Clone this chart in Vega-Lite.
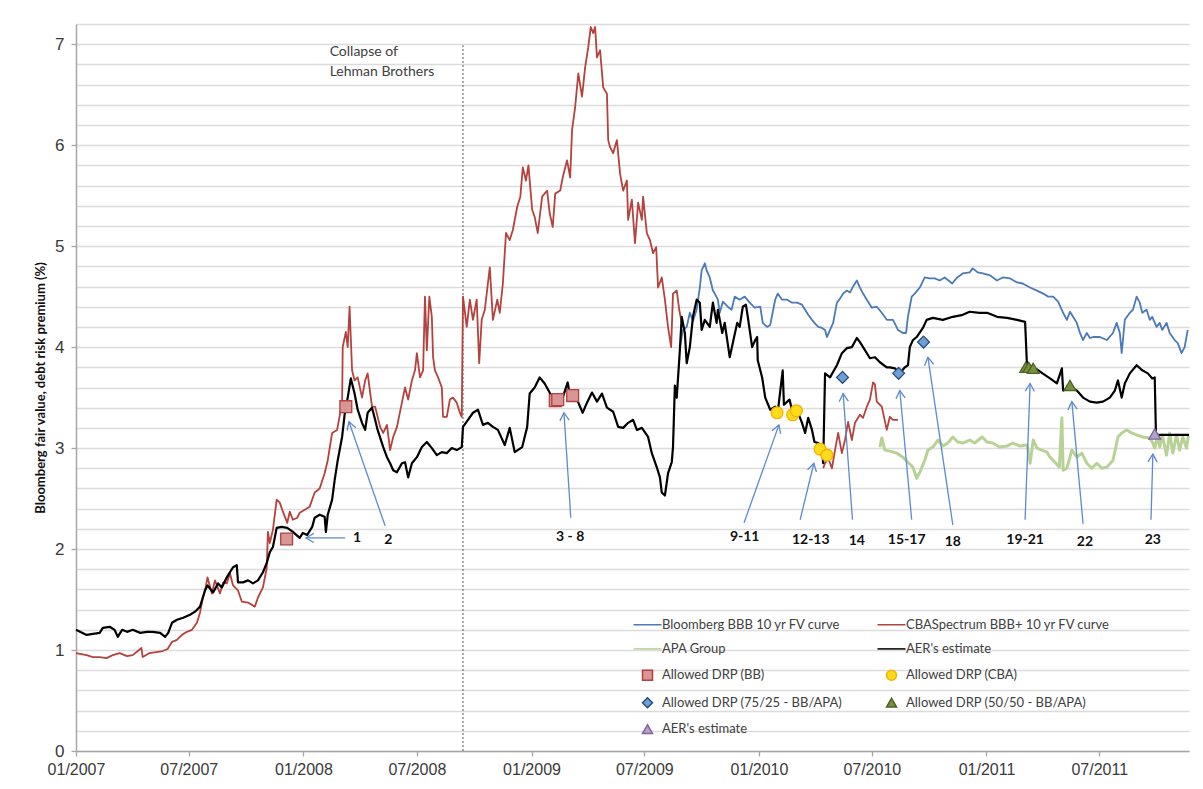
{
"$schema": "https://vega.github.io/schema/vega-lite/v6.json",
"width": 1113, "height": 727,
"autosize": "none",
"padding": {"left": 76, "top": 24, "right": 14, "bottom": 38},
"background": "white",
"config": {"view": {"stroke": null}, "font": "Lato",
  "legend": {"symbolOpacity": 1, "labelFont": "Lato", "labelFontSize": 13, "labelColor": "#404040"}},
"datasets": {
"lines": [
{"s":"BBG","d":"2009-08-27","v":4.00},{"s":"BBG","d":"2009-09-01","v":4.17},{"s":"BBG","d":"2009-09-07","v":4.20},{"s":"BBG","d":"2009-09-12","v":4.34},{"s":"BBG","d":"2009-09-17","v":4.26},{"s":"BBG","d":"2009-09-23","v":4.37},{"s":"BBG","d":"2009-09-28","v":4.59},{"s":"BBG","d":"2009-10-01","v":4.76},{"s":"BBG","d":"2009-10-06","v":4.83},{"s":"BBG","d":"2009-10-09","v":4.76},{"s":"BBG","d":"2009-10-14","v":4.69},{"s":"BBG","d":"2009-10-19","v":4.56},{"s":"BBG","d":"2009-10-22","v":4.53},{"s":"BBG","d":"2009-10-27","v":4.47},{"s":"BBG","d":"2009-10-30","v":4.34},{"s":"BBG","d":"2009-11-04","v":4.45},{"s":"BBG","d":"2009-11-12","v":4.40},{"s":"BBG","d":"2009-11-18","v":4.37},{"s":"BBG","d":"2009-11-23","v":4.50},{"s":"BBG","d":"2009-12-01","v":4.47},{"s":"BBG","d":"2009-12-09","v":4.50},{"s":"BBG","d":"2009-12-17","v":4.44},{"s":"BBG","d":"2009-12-25","v":4.39},{"s":"BBG","d":"2010-01-03","v":4.40},{"s":"BBG","d":"2010-01-07","v":4.24},{"s":"BBG","d":"2010-01-14","v":4.20},{"s":"BBG","d":"2010-01-19","v":4.22},{"s":"BBG","d":"2010-01-27","v":4.47},{"s":"BBG","d":"2010-01-31","v":4.53},{"s":"BBG","d":"2010-02-07","v":4.47},{"s":"BBG","d":"2010-02-15","v":4.47},{"s":"BBG","d":"2010-02-23","v":4.44},{"s":"BBG","d":"2010-03-03","v":4.44},{"s":"BBG","d":"2010-03-11","v":4.42},{"s":"BBG","d":"2010-03-16","v":4.37},{"s":"BBG","d":"2010-03-21","v":4.32},{"s":"BBG","d":"2010-03-27","v":4.27},{"s":"BBG","d":"2010-03-31","v":4.24},{"s":"BBG","d":"2010-04-06","v":4.20},{"s":"BBG","d":"2010-04-12","v":4.19},{"s":"BBG","d":"2010-04-17","v":4.17},{"s":"BBG","d":"2010-04-20","v":4.10},{"s":"BBG","d":"2010-04-25","v":4.17},{"s":"BBG","d":"2010-04-30","v":4.24},{"s":"BBG","d":"2010-05-06","v":4.44},{"s":"BBG","d":"2010-05-11","v":4.48},{"s":"BBG","d":"2010-05-16","v":4.53},{"s":"BBG","d":"2010-05-22","v":4.56},{"s":"BBG","d":"2010-05-27","v":4.54},{"s":"BBG","d":"2010-05-31","v":4.59},{"s":"BBG","d":"2010-06-07","v":4.66},{"s":"BBG","d":"2010-06-12","v":4.59},{"s":"BBG","d":"2010-06-17","v":4.53},{"s":"BBG","d":"2010-06-23","v":4.47},{"s":"BBG","d":"2010-07-01","v":4.39},{"s":"BBG","d":"2010-07-09","v":4.40},{"s":"BBG","d":"2010-07-17","v":4.34},{"s":"BBG","d":"2010-07-25","v":4.27},{"s":"BBG","d":"2010-08-04","v":4.27},{"s":"BBG","d":"2010-08-12","v":4.17},{"s":"BBG","d":"2010-08-20","v":4.14},{"s":"BBG","d":"2010-08-25","v":4.14},{"s":"BBG","d":"2010-08-28","v":4.30},{"s":"BBG","d":"2010-09-03","v":4.50},{"s":"BBG","d":"2010-09-08","v":4.53},{"s":"BBG","d":"2010-09-16","v":4.59},{"s":"BBG","d":"2010-09-24","v":4.69},{"s":"BBG","d":"2010-10-02","v":4.68},{"s":"BBG","d":"2010-10-10","v":4.68},{"s":"BBG","d":"2010-10-18","v":4.66},{"s":"BBG","d":"2010-10-26","v":4.69},{"s":"BBG","d":"2010-11-07","v":4.63},{"s":"BBG","d":"2010-11-15","v":4.69},{"s":"BBG","d":"2010-11-24","v":4.73},{"s":"BBG","d":"2010-12-05","v":4.74},{"s":"BBG","d":"2010-12-10","v":4.78},{"s":"BBG","d":"2010-12-18","v":4.74},{"s":"BBG","d":"2010-12-26","v":4.73},{"s":"BBG","d":"2011-01-07","v":4.71},{"s":"BBG","d":"2011-01-18","v":4.66},{"s":"BBG","d":"2011-01-27","v":4.69},{"s":"BBG","d":"2011-02-08","v":4.68},{"s":"BBG","d":"2011-02-19","v":4.64},{"s":"BBG","d":"2011-02-28","v":4.63},{"s":"BBG","d":"2011-03-12","v":4.59},{"s":"BBG","d":"2011-03-23","v":4.56},{"s":"BBG","d":"2011-04-02","v":4.53},{"s":"BBG","d":"2011-04-10","v":4.50},{"s":"BBG","d":"2011-04-18","v":4.50},{"s":"BBG","d":"2011-04-26","v":4.45},{"s":"BBG","d":"2011-05-04","v":4.34},{"s":"BBG","d":"2011-05-10","v":4.27},{"s":"BBG","d":"2011-05-15","v":4.35},{"s":"BBG","d":"2011-05-20","v":4.30},{"s":"BBG","d":"2011-05-26","v":4.24},{"s":"BBG","d":"2011-05-31","v":4.14},{"s":"BBG","d":"2011-06-05","v":4.07},{"s":"BBG","d":"2011-06-11","v":4.14},{"s":"BBG","d":"2011-06-16","v":4.09},{"s":"BBG","d":"2011-06-21","v":4.10},{"s":"BBG","d":"2011-07-02","v":4.10},{"s":"BBG","d":"2011-07-13","v":4.07},{"s":"BBG","d":"2011-07-23","v":4.14},{"s":"BBG","d":"2011-07-29","v":4.24},{"s":"BBG","d":"2011-08-03","v":4.14},{"s":"BBG","d":"2011-08-06","v":3.94},{"s":"BBG","d":"2011-08-11","v":4.27},{"s":"BBG","d":"2011-08-19","v":4.34},{"s":"BBG","d":"2011-08-24","v":4.37},{"s":"BBG","d":"2011-08-30","v":4.50},{"s":"BBG","d":"2011-09-04","v":4.44},{"s":"BBG","d":"2011-09-08","v":4.34},{"s":"BBG","d":"2011-09-15","v":4.37},{"s":"BBG","d":"2011-09-20","v":4.27},{"s":"BBG","d":"2011-09-24","v":4.30},{"s":"BBG","d":"2011-10-01","v":4.20},{"s":"BBG","d":"2011-10-06","v":4.24},{"s":"BBG","d":"2011-10-10","v":4.17},{"s":"BBG","d":"2011-10-17","v":4.24},{"s":"BBG","d":"2011-10-22","v":4.14},{"s":"BBG","d":"2011-10-30","v":4.07},{"s":"BBG","d":"2011-11-04","v":4.04},{"s":"BBG","d":"2011-11-10","v":3.94},{"s":"BBG","d":"2011-11-15","v":4.00},{"s":"BBG","d":"2011-11-20","v":4.17},

{"s":"CBA","g":1,"d":"2007-01-01","v":0.97},{"s":"CBA","g":1,"d":"2007-01-18","v":0.95},{"s":"CBA","g":1,"d":"2007-01-28","v":0.93},{"s":"CBA","g":1,"d":"2007-02-08","v":0.93},{"s":"CBA","g":1,"d":"2007-02-19","v":0.92},{"s":"CBA","g":1,"d":"2007-03-01","v":0.95},{"s":"CBA","g":1,"d":"2007-03-12","v":0.97},{"s":"CBA","g":1,"d":"2007-03-24","v":0.94},{"s":"CBA","g":1,"d":"2007-04-02","v":0.95},{"s":"CBA","g":1,"d":"2007-04-16","v":1.02},{"s":"CBA","g":1,"d":"2007-04-18","v":0.93},{"s":"CBA","g":1,"d":"2007-04-29","v":0.97},{"s":"CBA","g":1,"d":"2007-05-10","v":0.98},{"s":"CBA","g":1,"d":"2007-05-20","v":0.99},{"s":"CBA","g":1,"d":"2007-05-28","v":1.01},{"s":"CBA","g":1,"d":"2007-06-04","v":1.08},{"s":"CBA","g":1,"d":"2007-06-12","v":1.10},{"s":"CBA","g":1,"d":"2007-06-20","v":1.15},{"s":"CBA","g":1,"d":"2007-06-28","v":1.18},{"s":"CBA","g":1,"d":"2007-07-06","v":1.20},{"s":"CBA","g":1,"d":"2007-07-14","v":1.27},{"s":"CBA","g":1,"d":"2007-07-19","v":1.37},{"s":"CBA","g":1,"d":"2007-07-23","v":1.50},{"s":"CBA","g":1,"d":"2007-07-28","v":1.62},{"s":"CBA","g":1,"d":"2007-07-31","v":1.72},{"s":"CBA","g":1,"d":"2007-08-07","v":1.56},{"s":"CBA","g":1,"d":"2007-08-12","v":1.69},{"s":"CBA","g":1,"d":"2007-08-20","v":1.56},{"s":"CBA","g":1,"d":"2007-08-25","v":1.67},{"s":"CBA","g":1,"d":"2007-08-31","v":1.66},{"s":"CBA","g":1,"d":"2007-09-05","v":1.76},{"s":"CBA","g":1,"d":"2007-09-10","v":1.64},{"s":"CBA","g":1,"d":"2007-09-18","v":1.59},{"s":"CBA","g":1,"d":"2007-09-24","v":1.48},{"s":"CBA","g":1,"d":"2007-10-04","v":1.47},{"s":"CBA","g":1,"d":"2007-10-15","v":1.43},{"s":"CBA","g":1,"d":"2007-10-20","v":1.52},{"s":"CBA","g":1,"d":"2007-10-28","v":1.62},{"s":"CBA","g":1,"d":"2007-11-03","v":1.81},{"s":"CBA","g":1,"d":"2007-11-05","v":2.17},{"s":"CBA","g":1,"d":"2007-11-08","v":2.06},{"s":"CBA","g":1,"d":"2007-11-13","v":2.19},{"s":"CBA","g":1,"d":"2007-11-19","v":2.49},{"s":"CBA","g":1,"d":"2007-11-24","v":2.46},{"s":"CBA","g":1,"d":"2007-11-29","v":2.37},{"s":"CBA","g":1,"d":"2007-12-06","v":2.26},{"s":"CBA","g":1,"d":"2007-12-10","v":2.37},{"s":"CBA","g":1,"d":"2007-12-15","v":2.29},{"s":"CBA","g":1,"d":"2007-12-22","v":2.31},{"s":"CBA","g":1,"d":"2007-12-26","v":2.36},{"s":"CBA","g":1,"d":"2008-01-03","v":2.39},{"s":"CBA","g":1,"d":"2008-01-11","v":2.42},{"s":"CBA","g":1,"d":"2008-01-19","v":2.56},{"s":"CBA","g":1,"d":"2008-01-27","v":2.60},{"s":"CBA","g":1,"d":"2008-02-04","v":2.75},{"s":"CBA","g":1,"d":"2008-02-09","v":2.88},{"s":"CBA","g":1,"d":"2008-02-16","v":3.15},{"s":"CBA","g":1,"d":"2008-02-24","v":3.18},{"s":"CBA","g":1,"d":"2008-03-03","v":3.45},{"s":"CBA","g":1,"d":"2008-03-04","v":4.00},{"s":"CBA","g":1,"d":"2008-03-09","v":4.15},{"s":"CBA","g":1,"d":"2008-03-12","v":4.00},{"s":"CBA","g":1,"d":"2008-03-15","v":4.40},{"s":"CBA","g":1,"d":"2008-03-19","v":3.77},{"s":"CBA","g":1,"d":"2008-03-23","v":3.67},{"s":"CBA","g":1,"d":"2008-03-28","v":3.70},{"s":"CBA","g":1,"d":"2008-04-04","v":3.50},{"s":"CBA","g":1,"d":"2008-04-09","v":3.67},{"s":"CBA","g":1,"d":"2008-04-13","v":3.74},{"s":"CBA","g":1,"d":"2008-04-20","v":3.41},{"s":"CBA","g":1,"d":"2008-04-25","v":3.41},{"s":"CBA","g":1,"d":"2008-05-03","v":3.21},{"s":"CBA","g":1,"d":"2008-05-08","v":3.15},{"s":"CBA","g":1,"d":"2008-05-14","v":3.23},{"s":"CBA","g":1,"d":"2008-05-19","v":2.98},{"s":"CBA","g":1,"d":"2008-05-24","v":3.11},{"s":"CBA","g":1,"d":"2008-05-30","v":3.21},{"s":"CBA","g":1,"d":"2008-06-07","v":3.45},{"s":"CBA","g":1,"d":"2008-06-12","v":3.60},{"s":"CBA","g":1,"d":"2008-06-17","v":3.48},{"s":"CBA","g":1,"d":"2008-06-23","v":3.67},{"s":"CBA","g":1,"d":"2008-06-28","v":3.77},{"s":"CBA","g":1,"d":"2008-07-01","v":3.94},{"s":"CBA","g":1,"d":"2008-07-06","v":3.70},{"s":"CBA","g":1,"d":"2008-07-11","v":3.77},{"s":"CBA","g":1,"d":"2008-07-14","v":4.50},{"s":"CBA","g":1,"d":"2008-07-17","v":3.97},{"s":"CBA","g":1,"d":"2008-07-21","v":4.50},{"s":"CBA","g":1,"d":"2008-07-25","v":4.30},{"s":"CBA","g":1,"d":"2008-07-27","v":3.90},{"s":"CBA","g":1,"d":"2008-07-30","v":3.77},{"s":"CBA","g":1,"d":"2008-08-04","v":3.70},{"s":"CBA","g":1,"d":"2008-08-10","v":3.60},{"s":"CBA","g":1,"d":"2008-08-12","v":3.31},{"s":"CBA","g":1,"d":"2008-08-18","v":3.31},{"s":"CBA","g":1,"d":"2008-08-23","v":3.48},{"s":"CBA","g":1,"d":"2008-08-28","v":3.50},{"s":"CBA","g":1,"d":"2008-09-03","v":3.45},{"s":"CBA","g":1,"d":"2008-09-08","v":3.35},{"s":"CBA","g":1,"d":"2008-09-11","v":3.31},{"s":"CBA","g":1,"d":"2008-09-13","v":4.50},{"s":"CBA","g":1,"d":"2008-09-19","v":4.20},{"s":"CBA","g":1,"d":"2008-09-24","v":4.47},{"s":"CBA","g":1,"d":"2008-09-29","v":4.27},{"s":"CBA","g":1,"d":"2008-10-05","v":4.47},{"s":"CBA","g":1,"d":"2008-10-09","v":3.84},{"s":"CBA","g":1,"d":"2008-10-13","v":4.27},{"s":"CBA","g":1,"d":"2008-10-18","v":4.37},{"s":"CBA","g":1,"d":"2008-10-26","v":4.79},{"s":"CBA","g":1,"d":"2008-10-31","v":4.27},{"s":"CBA","g":1,"d":"2008-11-07","v":4.47},{"s":"CBA","g":1,"d":"2008-11-11","v":4.34},{"s":"CBA","g":1,"d":"2008-11-16","v":4.63},{"s":"CBA","g":1,"d":"2008-11-21","v":5.13},{"s":"CBA","g":1,"d":"2008-11-27","v":5.06},{"s":"CBA","g":1,"d":"2008-12-02","v":5.16},{"s":"CBA","g":1,"d":"2008-12-09","v":5.39},{"s":"CBA","g":1,"d":"2008-12-14","v":5.49},{"s":"CBA","g":1,"d":"2008-12-18","v":5.78},{"s":"CBA","g":1,"d":"2008-12-23","v":5.65},{"s":"CBA","g":1,"d":"2008-12-27","v":5.80},{"s":"CBA","g":1,"d":"2009-01-02","v":5.36},{"s":"CBA","g":1,"d":"2009-01-06","v":5.29},{"s":"CBA","g":1,"d":"2009-01-11","v":5.13},{"s":"CBA","g":1,"d":"2009-01-18","v":5.49},{"s":"CBA","g":1,"d":"2009-01-26","v":5.55},{"s":"CBA","g":1,"d":"2009-01-30","v":5.33},{"s":"CBA","g":1,"d":"2009-02-04","v":5.19},{"s":"CBA","g":1,"d":"2009-02-08","v":5.52},{"s":"CBA","g":1,"d":"2009-02-16","v":5.55},{"s":"CBA","g":1,"d":"2009-02-20","v":5.68},{"s":"CBA","g":1,"d":"2009-02-27","v":5.85},{"s":"CBA","g":1,"d":"2009-03-04","v":5.68},{"s":"CBA","g":1,"d":"2009-03-07","v":6.15},{"s":"CBA","g":1,"d":"2009-03-12","v":6.38},{"s":"CBA","g":1,"d":"2009-03-17","v":6.71},{"s":"CBA","g":1,"d":"2009-03-23","v":6.48},{"s":"CBA","g":1,"d":"2009-03-28","v":6.77},{"s":"CBA","g":1,"d":"2009-04-02","v":6.97},{"s":"CBA","g":1,"d":"2009-04-06","v":7.17},{"s":"CBA","g":1,"d":"2009-04-10","v":7.11},{"s":"CBA","g":1,"d":"2009-04-13","v":7.17},{"s":"CBA","g":1,"d":"2009-04-16","v":6.87},{"s":"CBA","g":1,"d":"2009-04-21","v":6.94},{"s":"CBA","g":1,"d":"2009-04-26","v":6.57},{"s":"CBA","g":1,"d":"2009-05-02","v":6.51},{"s":"CBA","g":1,"d":"2009-05-04","v":6.05},{"s":"CBA","g":1,"d":"2009-05-07","v":5.98},{"s":"CBA","g":1,"d":"2009-05-12","v":5.92},{"s":"CBA","g":1,"d":"2009-05-18","v":6.05},{"s":"CBA","g":1,"d":"2009-05-23","v":5.72},{"s":"CBA","g":1,"d":"2009-05-28","v":5.55},{"s":"CBA","g":1,"d":"2009-06-03","v":5.65},{"s":"CBA","g":1,"d":"2009-06-05","v":5.26},{"s":"CBA","g":1,"d":"2009-06-11","v":5.46},{"s":"CBA","g":1,"d":"2009-06-16","v":5.03},{"s":"CBA","g":1,"d":"2009-06-21","v":5.43},{"s":"CBA","g":1,"d":"2009-06-27","v":5.26},{"s":"CBA","g":1,"d":"2009-06-29","v":5.49},{"s":"CBA","g":1,"d":"2009-07-05","v":5.13},{"s":"CBA","g":1,"d":"2009-07-10","v":5.06},{"s":"CBA","g":1,"d":"2009-07-15","v":4.93},{"s":"CBA","g":1,"d":"2009-07-20","v":4.99},{"s":"CBA","g":1,"d":"2009-07-23","v":4.59},{"s":"CBA","g":1,"d":"2009-07-29","v":4.69},{"s":"CBA","g":1,"d":"2009-08-03","v":4.47},{"s":"CBA","g":1,"d":"2009-08-08","v":4.20},{"s":"CBA","g":1,"d":"2009-08-13","v":4.00},{"s":"CBA","g":1,"d":"2009-08-16","v":4.53},{"s":"CBA","g":1,"d":"2009-08-22","v":4.56},{"s":"CBA","g":1,"d":"2009-08-26","v":4.37},{"s":"CBA","g":1,"d":"2009-08-30","v":4.24},
{"s":"CBA","g":2,"d":"2010-04-14","v":2.80},{"s":"CBA","g":2,"d":"2010-04-17","v":2.85},{"s":"CBA","g":2,"d":"2010-04-22","v":2.90},{"s":"CBA","g":2,"d":"2010-04-28","v":2.80},{"s":"CBA","g":2,"d":"2010-05-03","v":2.98},{"s":"CBA","g":2,"d":"2010-05-08","v":3.15},{"s":"CBA","g":2,"d":"2010-05-14","v":2.95},{"s":"CBA","g":2,"d":"2010-05-19","v":3.08},{"s":"CBA","g":2,"d":"2010-05-24","v":3.26},{"s":"CBA","g":2,"d":"2010-05-30","v":3.08},{"s":"CBA","g":2,"d":"2010-06-04","v":3.25},{"s":"CBA","g":2,"d":"2010-06-12","v":3.33},{"s":"CBA","g":2,"d":"2010-06-17","v":3.30},{"s":"CBA","g":2,"d":"2010-06-23","v":3.41},{"s":"CBA","g":2,"d":"2010-06-28","v":3.48},{"s":"CBA","g":2,"d":"2010-07-03","v":3.65},{"s":"CBA","g":2,"d":"2010-07-06","v":3.63},{"s":"CBA","g":2,"d":"2010-07-09","v":3.46},{"s":"CBA","g":2,"d":"2010-07-17","v":3.41},{"s":"CBA","g":2,"d":"2010-07-25","v":3.18},{"s":"CBA","g":2,"d":"2010-07-30","v":3.31},{"s":"CBA","g":2,"d":"2010-08-04","v":3.28},{"s":"CBA","g":2,"d":"2010-08-12","v":3.28},

{"s":"APA","d":"2010-07-14","v":3.01},{"s":"APA","d":"2010-07-17","v":3.10},{"s":"APA","d":"2010-07-22","v":2.98},{"s":"APA","d":"2010-07-30","v":2.97},{"s":"APA","d":"2010-08-10","v":2.95},{"s":"APA","d":"2010-08-20","v":2.91},{"s":"APA","d":"2010-08-28","v":2.86},{"s":"APA","d":"2010-09-05","v":2.81},{"s":"APA","d":"2010-09-11","v":2.70},{"s":"APA","d":"2010-09-16","v":2.76},{"s":"APA","d":"2010-09-24","v":2.88},{"s":"APA","d":"2010-09-29","v":2.98},{"s":"APA","d":"2010-10-07","v":3.01},{"s":"APA","d":"2010-10-15","v":3.08},{"s":"APA","d":"2010-10-23","v":3.02},{"s":"APA","d":"2010-10-31","v":3.05},{"s":"APA","d":"2010-11-08","v":3.11},{"s":"APA","d":"2010-11-16","v":3.06},{"s":"APA","d":"2010-11-24","v":3.05},{"s":"APA","d":"2010-12-05","v":3.08},{"s":"APA","d":"2010-12-13","v":3.05},{"s":"APA","d":"2010-12-25","v":3.11},{"s":"APA","d":"2011-01-02","v":3.06},{"s":"APA","d":"2011-01-11","v":3.05},{"s":"APA","d":"2011-01-22","v":3.01},{"s":"APA","d":"2011-02-03","v":3.02},{"s":"APA","d":"2011-02-12","v":3.05},{"s":"APA","d":"2011-02-24","v":3.02},{"s":"APA","d":"2011-03-07","v":3.03},{"s":"APA","d":"2011-03-12","v":2.85},{"s":"APA","d":"2011-03-17","v":3.08},{"s":"APA","d":"2011-03-23","v":3.00},{"s":"APA","d":"2011-03-31","v":2.98},{"s":"APA","d":"2011-04-08","v":2.96},{"s":"APA","d":"2011-04-13","v":2.91},{"s":"APA","d":"2011-04-21","v":2.86},{"s":"APA","d":"2011-04-28","v":2.81},{"s":"APA","d":"2011-05-02","v":3.30},{"s":"APA","d":"2011-05-04","v":2.78},{"s":"APA","d":"2011-05-10","v":2.80},{"s":"APA","d":"2011-05-18","v":2.98},{"s":"APA","d":"2011-05-26","v":2.91},{"s":"APA","d":"2011-06-03","v":2.95},{"s":"APA","d":"2011-06-11","v":2.85},{"s":"APA","d":"2011-06-19","v":2.80},{"s":"APA","d":"2011-06-27","v":2.85},{"s":"APA","d":"2011-07-05","v":2.80},{"s":"APA","d":"2011-07-13","v":2.81},{"s":"APA","d":"2011-07-23","v":2.88},{"s":"APA","d":"2011-07-31","v":3.11},{"s":"APA","d":"2011-08-06","v":3.15},{"s":"APA","d":"2011-08-14","v":3.18},{"s":"APA","d":"2011-08-22","v":3.15},{"s":"APA","d":"2011-08-30","v":3.13},{"s":"APA","d":"2011-09-09","v":3.11},{"s":"APA","d":"2011-09-20","v":3.10},{"s":"APA","d":"2011-09-25","v":3.05},{"s":"APA","d":"2011-09-28","v":3.00},{"s":"APA","d":"2011-10-03","v":3.13},{"s":"APA","d":"2011-10-06","v":3.01},{"s":"APA","d":"2011-10-10","v":3.13},{"s":"APA","d":"2011-10-17","v":2.93},{"s":"APA","d":"2011-10-22","v":3.15},{"s":"APA","d":"2011-10-27","v":2.95},{"s":"APA","d":"2011-11-02","v":3.13},{"s":"APA","d":"2011-11-07","v":2.98},{"s":"APA","d":"2011-11-12","v":3.11},{"s":"APA","d":"2011-11-18","v":3.00},{"s":"APA","d":"2011-11-21","v":3.12},

{"s":"AER","d":"2007-01-01","v":1.20},{"s":"AER","d":"2007-01-18","v":1.15},{"s":"AER","d":"2007-02-08","v":1.17},{"s":"AER","d":"2007-02-13","v":1.22},{"s":"AER","d":"2007-02-24","v":1.23},{"s":"AER","d":"2007-03-04","v":1.20},{"s":"AER","d":"2007-03-09","v":1.13},{"s":"AER","d":"2007-03-16","v":1.20},{"s":"AER","d":"2007-03-24","v":1.18},{"s":"AER","d":"2007-04-02","v":1.20},{"s":"AER","d":"2007-04-14","v":1.17},{"s":"AER","d":"2007-04-25","v":1.18},{"s":"AER","d":"2007-05-04","v":1.18},{"s":"AER","d":"2007-05-16","v":1.17},{"s":"AER","d":"2007-05-24","v":1.13},{"s":"AER","d":"2007-05-29","v":1.17},{"s":"AER","d":"2007-06-04","v":1.27},{"s":"AER","d":"2007-06-12","v":1.30},{"s":"AER","d":"2007-06-22","v":1.32},{"s":"AER","d":"2007-07-03","v":1.35},{"s":"AER","d":"2007-07-11","v":1.38},{"s":"AER","d":"2007-07-19","v":1.43},{"s":"AER","d":"2007-07-27","v":1.59},{"s":"AER","d":"2007-07-31","v":1.64},{"s":"AER","d":"2007-08-09","v":1.57},{"s":"AER","d":"2007-08-17","v":1.66},{"s":"AER","d":"2007-08-23","v":1.62},{"s":"AER","d":"2007-08-31","v":1.72},{"s":"AER","d":"2007-09-05","v":1.77},{"s":"AER","d":"2007-09-10","v":1.82},{"s":"AER","d":"2007-09-16","v":1.84},{"s":"AER","d":"2007-09-18","v":1.67},{"s":"AER","d":"2007-09-26","v":1.67},{"s":"AER","d":"2007-10-04","v":1.69},{"s":"AER","d":"2007-10-12","v":1.66},{"s":"AER","d":"2007-10-20","v":1.69},{"s":"AER","d":"2007-10-28","v":1.77},{"s":"AER","d":"2007-11-03","v":1.86},{"s":"AER","d":"2007-11-08","v":1.97},{"s":"AER","d":"2007-11-13","v":2.02},{"s":"AER","d":"2007-11-19","v":2.21},{"s":"AER","d":"2007-11-27","v":2.22},{"s":"AER","d":"2007-12-06","v":2.21},{"s":"AER","d":"2007-12-15","v":2.17},{"s":"AER","d":"2007-12-26","v":2.11},{"s":"AER","d":"2007-12-31","v":2.16},{"s":"AER","d":"2008-01-07","v":2.14},{"s":"AER","d":"2008-01-15","v":2.22},{"s":"AER","d":"2008-01-19","v":2.31},{"s":"AER","d":"2008-01-27","v":2.34},{"s":"AER","d":"2008-02-04","v":2.32},{"s":"AER","d":"2008-02-06","v":2.17},{"s":"AER","d":"2008-02-09","v":2.34},{"s":"AER","d":"2008-02-16","v":2.49},{"s":"AER","d":"2008-02-20","v":2.68},{"s":"AER","d":"2008-02-25","v":2.88},{"s":"AER","d":"2008-03-03","v":3.11},{"s":"AER","d":"2008-03-07","v":3.33},{"s":"AER","d":"2008-03-12","v":3.50},{"s":"AER","d":"2008-03-17","v":3.69},{"s":"AER","d":"2008-03-23","v":3.54},{"s":"AER","d":"2008-03-28","v":3.38},{"s":"AER","d":"2008-04-04","v":3.25},{"s":"AER","d":"2008-04-09","v":3.18},{"s":"AER","d":"2008-04-13","v":3.35},{"s":"AER","d":"2008-04-20","v":3.40},{"s":"AER","d":"2008-04-25","v":3.28},{"s":"AER","d":"2008-04-29","v":3.18},{"s":"AER","d":"2008-05-08","v":3.01},{"s":"AER","d":"2008-05-14","v":2.91},{"s":"AER","d":"2008-05-19","v":2.85},{"s":"AER","d":"2008-05-24","v":2.78},{"s":"AER","d":"2008-05-30","v":2.76},{"s":"AER","d":"2008-06-07","v":2.85},{"s":"AER","d":"2008-06-12","v":2.86},{"s":"AER","d":"2008-06-17","v":2.71},{"s":"AER","d":"2008-06-23","v":2.85},{"s":"AER","d":"2008-07-01","v":2.91},{"s":"AER","d":"2008-07-09","v":3.01},{"s":"AER","d":"2008-07-17","v":3.06},{"s":"AER","d":"2008-07-25","v":3.00},{"s":"AER","d":"2008-08-02","v":2.93},{"s":"AER","d":"2008-08-10","v":2.96},{"s":"AER","d":"2008-08-18","v":2.95},{"s":"AER","d":"2008-08-26","v":3.00},{"s":"AER","d":"2008-09-03","v":2.98},{"s":"AER","d":"2008-09-11","v":3.01},{"s":"AER","d":"2008-09-13","v":3.21},{"s":"AER","d":"2008-09-21","v":3.28},{"s":"AER","d":"2008-09-29","v":3.35},{"s":"AER","d":"2008-10-07","v":3.38},{"s":"AER","d":"2008-10-15","v":3.23},{"s":"AER","d":"2008-10-23","v":3.25},{"s":"AER","d":"2008-10-31","v":3.21},{"s":"AER","d":"2008-11-08","v":3.18},{"s":"AER","d":"2008-11-19","v":3.03},{"s":"AER","d":"2008-11-27","v":3.20},{"s":"AER","d":"2008-12-05","v":2.96},{"s":"AER","d":"2008-12-17","v":3.01},{"s":"AER","d":"2008-12-25","v":3.21},{"s":"AER","d":"2008-12-29","v":3.54},{"s":"AER","d":"2009-01-06","v":3.60},{"s":"AER","d":"2009-01-14","v":3.70},{"s":"AER","d":"2009-01-22","v":3.64},{"s":"AER","d":"2009-01-30","v":3.55},{"s":"AER","d":"2009-02-07","v":3.43},{"s":"AER","d":"2009-02-20","v":3.50},{"s":"AER","d":"2009-02-28","v":3.65},{"s":"AER","d":"2009-03-03","v":3.54},{"s":"AER","d":"2009-03-15","v":3.48},{"s":"AER","d":"2009-03-24","v":3.35},{"s":"AER","d":"2009-03-31","v":3.45},{"s":"AER","d":"2009-04-08","v":3.55},{"s":"AER","d":"2009-04-16","v":3.46},{"s":"AER","d":"2009-04-24","v":3.54},{"s":"AER","d":"2009-05-02","v":3.40},{"s":"AER","d":"2009-05-12","v":3.36},{"s":"AER","d":"2009-05-20","v":3.21},{"s":"AER","d":"2009-05-28","v":3.20},{"s":"AER","d":"2009-06-05","v":3.25},{"s":"AER","d":"2009-06-13","v":3.28},{"s":"AER","d":"2009-06-19","v":3.18},{"s":"AER","d":"2009-06-27","v":3.20},{"s":"AER","d":"2009-07-07","v":3.11},{"s":"AER","d":"2009-07-13","v":2.95},{"s":"AER","d":"2009-07-21","v":2.81},{"s":"AER","d":"2009-07-26","v":2.71},{"s":"AER","d":"2009-07-29","v":2.56},{"s":"AER","d":"2009-08-03","v":2.53},{"s":"AER","d":"2009-08-08","v":2.75},{"s":"AER","d":"2009-08-14","v":2.86},{"s":"AER","d":"2009-08-16","v":3.01},{"s":"AER","d":"2009-08-19","v":3.62},{"s":"AER","d":"2009-08-22","v":3.50},{"s":"AER","d":"2009-08-27","v":3.97},{"s":"AER","d":"2009-08-30","v":4.30},{"s":"AER","d":"2009-09-04","v":4.14},{"s":"AER","d":"2009-09-07","v":3.84},{"s":"AER","d":"2009-09-12","v":4.00},{"s":"AER","d":"2009-09-17","v":4.30},{"s":"AER","d":"2009-09-23","v":4.47},{"s":"AER","d":"2009-09-28","v":4.44},{"s":"AER","d":"2009-10-01","v":4.17},{"s":"AER","d":"2009-10-06","v":4.27},{"s":"AER","d":"2009-10-14","v":4.20},{"s":"AER","d":"2009-10-19","v":4.44},{"s":"AER","d":"2009-10-25","v":4.24},{"s":"AER","d":"2009-10-27","v":4.37},{"s":"AER","d":"2009-11-03","v":4.14},{"s":"AER","d":"2009-11-07","v":4.24},{"s":"AER","d":"2009-11-11","v":4.07},{"s":"AER","d":"2009-11-15","v":3.90},{"s":"AER","d":"2009-11-20","v":4.04},{"s":"AER","d":"2009-11-27","v":4.24},{"s":"AER","d":"2009-12-01","v":4.20},{"s":"AER","d":"2009-12-06","v":4.40},{"s":"AER","d":"2009-12-11","v":4.42},{"s":"AER","d":"2009-12-14","v":4.30},{"s":"AER","d":"2009-12-21","v":4.00},{"s":"AER","d":"2009-12-26","v":4.07},{"s":"AER","d":"2009-12-29","v":4.10},{"s":"AER","d":"2009-12-30","v":3.87},{"s":"AER","d":"2010-01-06","v":3.70},{"s":"AER","d":"2010-01-11","v":3.50},{"s":"AER","d":"2010-01-19","v":3.38},{"s":"AER","d":"2010-01-27","v":3.41},{"s":"AER","d":"2010-01-31","v":3.35},{"s":"AER","d":"2010-02-08","v":3.77},{"s":"AER","d":"2010-02-10","v":3.43},{"s":"AER","d":"2010-02-19","v":3.48},{"s":"AER","d":"2010-02-24","v":3.35},{"s":"AER","d":"2010-03-04","v":3.36},{"s":"AER","d":"2010-03-11","v":3.25},{"s":"AER","d":"2010-03-16","v":3.15},{"s":"AER","d":"2010-03-21","v":3.30},{"s":"AER","d":"2010-03-27","v":3.18},{"s":"AER","d":"2010-03-31","v":3.06},{"s":"AER","d":"2010-04-06","v":3.05},{"s":"AER","d":"2010-04-12","v":3.01},{"s":"AER","d":"2010-04-14","v":2.85},{"s":"AER","d":"2010-04-17","v":3.74},{"s":"AER","d":"2010-04-25","v":3.70},{"s":"AER","d":"2010-05-06","v":3.82},{"s":"AER","d":"2010-05-14","v":3.94},{"s":"AER","d":"2010-05-22","v":3.99},{"s":"AER","d":"2010-05-30","v":4.00},{"s":"AER","d":"2010-06-07","v":4.09},{"s":"AER","d":"2010-06-12","v":4.05},{"s":"AER","d":"2010-06-20","v":3.97},{"s":"AER","d":"2010-06-28","v":3.89},{"s":"AER","d":"2010-07-06","v":3.90},{"s":"AER","d":"2010-07-14","v":3.85},{"s":"AER","d":"2010-07-25","v":3.80},{"s":"AER","d":"2010-07-30","v":3.80},{"s":"AER","d":"2010-08-07","v":3.79},{"s":"AER","d":"2010-08-15","v":3.74},{"s":"AER","d":"2010-08-23","v":3.80},{"s":"AER","d":"2010-08-28","v":3.82},{"s":"AER","d":"2010-08-31","v":4.00},{"s":"AER","d":"2010-09-05","v":4.07},{"s":"AER","d":"2010-09-11","v":4.10},{"s":"AER","d":"2010-09-21","v":4.19},{"s":"AER","d":"2010-09-27","v":4.27},{"s":"AER","d":"2010-10-07","v":4.29},{"s":"AER","d":"2010-10-23","v":4.27},{"s":"AER","d":"2010-11-08","v":4.30},{"s":"AER","d":"2010-11-24","v":4.32},{"s":"AER","d":"2010-12-05","v":4.35},{"s":"AER","d":"2010-12-21","v":4.34},{"s":"AER","d":"2011-01-02","v":4.34},{"s":"AER","d":"2011-01-18","v":4.30},{"s":"AER","d":"2011-02-03","v":4.29},{"s":"AER","d":"2011-02-19","v":4.27},{"s":"AER","d":"2011-03-04","v":4.25},{"s":"AER","d":"2011-03-07","v":3.82},{"s":"AER","d":"2011-03-17","v":3.79},{"s":"AER","d":"2011-03-23","v":3.78},{"s":"AER","d":"2011-04-01","v":3.74},{"s":"AER","d":"2011-04-13","v":3.69},{"s":"AER","d":"2011-04-24","v":3.64},{"s":"AER","d":"2011-05-02","v":3.79},{"s":"AER","d":"2011-05-04","v":3.57},{"s":"AER","d":"2011-05-15","v":3.60},{"s":"AER","d":"2011-05-26","v":3.57},{"s":"AER","d":"2011-06-05","v":3.50},{"s":"AER","d":"2011-06-16","v":3.46},{"s":"AER","d":"2011-06-27","v":3.45},{"s":"AER","d":"2011-07-07","v":3.46},{"s":"AER","d":"2011-07-18","v":3.50},{"s":"AER","d":"2011-07-26","v":3.57},{"s":"AER","d":"2011-07-31","v":3.67},{"s":"AER","d":"2011-08-06","v":3.50},{"s":"AER","d":"2011-08-11","v":3.64},{"s":"AER","d":"2011-08-19","v":3.74},{"s":"AER","d":"2011-08-30","v":3.82},{"s":"AER","d":"2011-09-08","v":3.77},{"s":"AER","d":"2011-09-17","v":3.74},{"s":"AER","d":"2011-09-24","v":3.69},{"s":"AER","d":"2011-09-28","v":3.70},{"s":"AER","d":"2011-09-30","v":3.13},{"s":"AER","d":"2011-11-22","v":3.13}
],
"markers": [
{"s":"DBB","d":"2007-12-05","v":2.10},{"s":"DBB","d":"2008-03-09","v":3.41},{"s":"DBB","d":"2009-02-08","v":3.47},{"s":"DBB","d":"2009-02-12","v":3.48},{"s":"DBB","d":"2009-03-08","v":3.52},
{"s":"DCBA","d":"2010-01-30","v":3.35},{"s":"DCBA","d":"2010-02-24","v":3.33},{"s":"DCBA","d":"2010-03-02","v":3.37},{"s":"DCBA","d":"2010-04-09","v":2.99},{"s":"DCBA","d":"2010-04-20","v":2.93},
{"s":"D75","d":"2010-05-15","v":3.70},{"s":"D75","d":"2010-08-13","v":3.74},{"s":"D75","d":"2010-09-22","v":4.05},
{"s":"D50","d":"2011-03-05","v":3.80},{"s":"D50","d":"2011-03-10","v":3.80},{"s":"D50","d":"2011-03-17","v":3.79},{"s":"D50","d":"2011-05-15","v":3.62},
{"s":"AERE","d":"2011-09-28","v":3.14}
],
"arrows": [
{"d":"2008-01-05","v":2.11,"d2":"2008-03-08","v2":2.11,"a":-90},
{"d":"2008-03-14","v":3.26,"d2":"2008-05-11","v2":2.23,"a":-19},
{"d":"2009-02-22","v":3.35,"d2":"2009-03-05","v2":2.31,"a":-4},
{"d":"2010-02-02","v":3.23,"d2":"2009-12-08","v2":2.26,"a":20},
{"d":"2010-03-30","v":2.85,"d2":"2010-03-08","v2":2.29,"a":14},
{"d":"2010-05-16","v":3.54,"d2":"2010-05-31","v2":2.29,"a":-4.5},
{"d":"2010-08-15","v":3.57,"d2":"2010-09-03","v2":2.29,"a":-5.3},
{"d":"2010-09-29","v":3.90,"d2":"2010-11-08","v2":2.24,"a":-8.5},
{"d":"2011-03-12","v":3.64,"d2":"2011-03-04","v2":2.29,"a":2},
{"d":"2011-05-18","v":3.46,"d2":"2011-06-05","v2":2.25,"a":-5.2},
{"d":"2011-09-25","v":2.94,"d2":"2011-09-22","v2":2.29,"a":1.7}
],
"labels": [
{"d":"2008-03-27","v":2.11,"t":"1"},{"d":"2008-05-16","v":2.09,"t":"2"},{"d":"2009-03-04","v":2.12,"t":"3 - 8"},{"d":"2009-12-09","v":2.12,"t":"9-11"},{"d":"2010-03-25","v":2.09,"t":"12-13"},{"d":"2010-06-07","v":2.08,"t":"14"},{"d":"2010-08-26","v":2.09,"t":"15-17"},{"d":"2010-11-08","v":2.07,"t":"18"},{"d":"2011-03-04","v":2.09,"t":"19-21"},{"d":"2011-06-08","v":2.07,"t":"22"},{"d":"2011-09-25","v":2.09,"t":"23"}
]
},
"encoding": {
  "x": {"field": "d", "type": "temporal",
    "scale": {"domain": [{"year": 2007, "month": 1, "date": 1}, {"year": 2011, "month": 11, "date": 22}]},
    "axis": {"title": null, "format": "%m/%Y", "grid": false,
      "values": [{"year":2007,"month":1,"date":1},{"year":2007,"month":7,"date":1},{"year":2008,"month":1,"date":1},{"year":2008,"month":7,"date":1},{"year":2009,"month":1,"date":1},{"year":2009,"month":7,"date":1},{"year":2010,"month":1,"date":1},{"year":2010,"month":7,"date":1},{"year":2011,"month":1,"date":1},{"year":2011,"month":7,"date":1}],
      "labelFont": "Liberation Sans", "labelFontSize": 16, "labelColor": "#3a3a3a", "labelPadding": 5,
      "tickSize": 5, "tickColor": "#a6a6a6", "domainColor": "#a6a6a6", "domainWidth": 1.5, "tickWidth": 1.3, "labelFlush": false}},
  "y": {"field": "v", "type": "quantitative",
    "scale": {"domain": [0, 7.2], "nice": false, "zero": true},
    "axis": {"title": "Bloomberg fair value, debt risk premium (%)",
      "titleFont": "Lato", "titleFontWeight": "bold", "titleFontSize": 13, "titleColor": "#111111", "titlePadding": 7,
      "values": [0,0.2,0.4,0.6,0.8,1,1.2,1.4,1.6,1.8,2,2.2,2.4,2.6,2.8,3,3.2,3.4,3.6,3.8,4,4.2,4.4,4.6,4.8,5,5.2,5.4,5.6,5.8,6,6.2,6.4,6.6,6.8,7,7.2],
      "labelExpr": "datum.value % 1 === 0 ? format(datum.value, 'd') : ''",
      "labelFont": "Liberation Sans", "labelFontSize": 17, "labelColor": "#3a3a3a", "labelPadding": 7,
      "grid": true, "gridColor": "#dcdcdc", "gridWidth": 1.3,
      "tickSize": 5, "tickColor": "#a6a6a6", "tickWidth": 1.3,
      "tickOpacity": {"condition": {"test": "datum.value % 1 === 0", "value": 1}, "value": 0},
      "domainColor": "#a6a6a6", "domainWidth": 1.5}}
},
"layer": [
  {"data": {"values": [{"d": "2008-09-13", "v": 0, "v2": 6.99}]},
   "mark": {"type": "rule", "strokeDash": [2, 2], "color": "#555555", "strokeWidth": 1},
   "encoding": {"y2": {"field": "v2"}}},
  {"data": {"values": [{"d": "2008-02-12", "v": 6.92, "t": "Collapse of"}, {"d": "2008-02-12", "v": 6.72, "t": "Lehman Brothers"}]},
   "mark": {"type": "text", "align": "left", "baseline": "middle", "font": "Lato", "fontSize": 14, "color": "#404040"},
   "encoding": {"text": {"field": "t"}}},
  {"data": {"name": "lines"}, "transform": [{"filter": {"field": "s", "equal": "BBG"}}],
   "mark": {"type": "line", "strokeWidth": 1.8, "strokeJoin": "round"},
   "encoding": {"stroke": {"field": "s", "type": "nominal",
     "scale": {"domain": ["BBG","CBA","APA","AER","DBB","DCBA","D75","D50","AERE"], "range": ["#4a7ab8","#b5423d","#b8d296","#000000","#b0413e","#f2b200","#2c4d7d","#4f6228","#7f64a1"]}}}},
  {"data": {"name": "lines"}, "transform": [{"filter": {"field": "s", "equal": "CBA"}}],
   "mark": {"type": "line", "strokeWidth": 1.8, "strokeJoin": "round"},
   "encoding": {"detail": {"field": "g"}, "stroke": {"field": "s", "type": "nominal",
     "scale": {"domain": ["BBG","CBA","APA","AER","DBB","DCBA","D75","D50","AERE"], "range": ["#4a7ab8","#b5423d","#b8d296","#000000","#b0413e","#f2b200","#2c4d7d","#4f6228","#7f64a1"]}}}},
  {"data": {"name": "lines"}, "transform": [{"filter": {"field": "s", "equal": "APA"}}],
   "mark": {"type": "line", "strokeWidth": 3, "strokeJoin": "round"},
   "encoding": {"stroke": {"field": "s", "type": "nominal",
     "scale": {"domain": ["BBG","CBA","APA","AER","DBB","DCBA","D75","D50","AERE"], "range": ["#4a7ab8","#b5423d","#b8d296","#000000","#b0413e","#f2b200","#2c4d7d","#4f6228","#7f64a1"]}}}},
  {"data": {"name": "lines"}, "transform": [{"filter": {"field": "s", "equal": "AER"}}],
   "mark": {"type": "line", "strokeWidth": 2.2, "strokeJoin": "round"},
   "encoding": {"stroke": {"field": "s", "type": "nominal",
     "scale": {"domain": ["BBG","CBA","APA","AER","DBB","DCBA","D75","D50","AERE"], "range": ["#4a7ab8","#b5423d","#b8d296","#000000","#b0413e","#f2b200","#2c4d7d","#4f6228","#7f64a1"]}}}},
  {"data": {"name": "arrows"},
   "mark": {"type": "rule", "color": "#5b8bd0", "strokeWidth": 1.3},
   "encoding": {"x2": {"field": "d2"}, "y2": {"field": "v2"}}},
  {"data": {"name": "arrows"},
   "mark": {"type": "point", "shape": "M-1,1.7L0,0L1,1.7", "filled": false, "size": 85, "color": "#5b8bd0", "strokeWidth": 1.3, "opacity": 1},
   "encoding": {"angle": {"field": "a", "type": "quantitative", "scale": null}}},
  {"data": {"name": "labels"},
   "mark": {"type": "text", "font": "Lato", "fontWeight": "bold", "fontSize": 14, "color": "#111111", "baseline": "middle"},
   "encoding": {"text": {"field": "t"}}},
  {"data": {"name": "markers"},
   "mark": {"type": "point", "filled": true, "size": 140, "strokeWidth": 1.3, "opacity": 1},
   "encoding": {
     "shape": {"field": "s", "type": "nominal",
       "scale": {"domain": ["BBG","CBA","APA","AER","DBB","DCBA","D75","D50","AERE"], "range": ["M-2.8,0L2.8,0","M-2.8,0L2.8,0","M-2.8,0L2.8,0","M-2.8,0L2.8,0","square","circle","diamond","triangle-up","triangle-up"]},
       "legend": {"orient": "none", "legendX": 565, "legendY": 594, "columns": 2, "direction": "horizontal", "columnPadding": 31, "rowPadding": 10.4, "padding": 0, "symbolSize": 100, "labelOffset": 8, "labelLimit": 400, "title": null,
         "labelExpr": "datum.value == 'BBG' ? 'Bloomberg BBB 10 yr FV curve' : datum.value == 'CBA' ? 'CBASpectrum BBB+ 10 yr FV curve' : datum.value == 'APA' ? 'APA Group' : datum.value == 'AER' ? \"AER's estimate\" : datum.value == 'DBB' ? 'Allowed DRP (BB)' : datum.value == 'DCBA' ? 'Allowed DRP (CBA)' : datum.value == 'D75' ? 'Allowed DRP (75/25 - BB/APA)' : datum.value == 'D50' ? 'Allowed DRP (50/50 - BB/APA)' : \"AER's estimate\"",
         "encode": {"symbols": {"update": {"strokeWidth": {"signal": "indexof(['BBG','CBA','APA','AER'], datum.value) >= 0 ? 2.5 : 1.2"}}}}}},
     "fill": {"field": "s", "type": "nominal",
       "scale": {"domain": ["BBG","CBA","APA","AER","DBB","DCBA","D75","D50","AERE"], "range": ["transparent","transparent","transparent","transparent","#d99694","#ffdc1a","#6d9fd8","#76923c","#b3a2c7"]}},
     "stroke": {"field": "s", "type": "nominal",
       "scale": {"domain": ["BBG","CBA","APA","AER","DBB","DCBA","D75","D50","AERE"], "range": ["#4a7ab8","#b5423d","#b8d296","#000000","#b0413e","#f2b200","#2c4d7d","#4f6228","#7f64a1"]}}
   }}
]
}
